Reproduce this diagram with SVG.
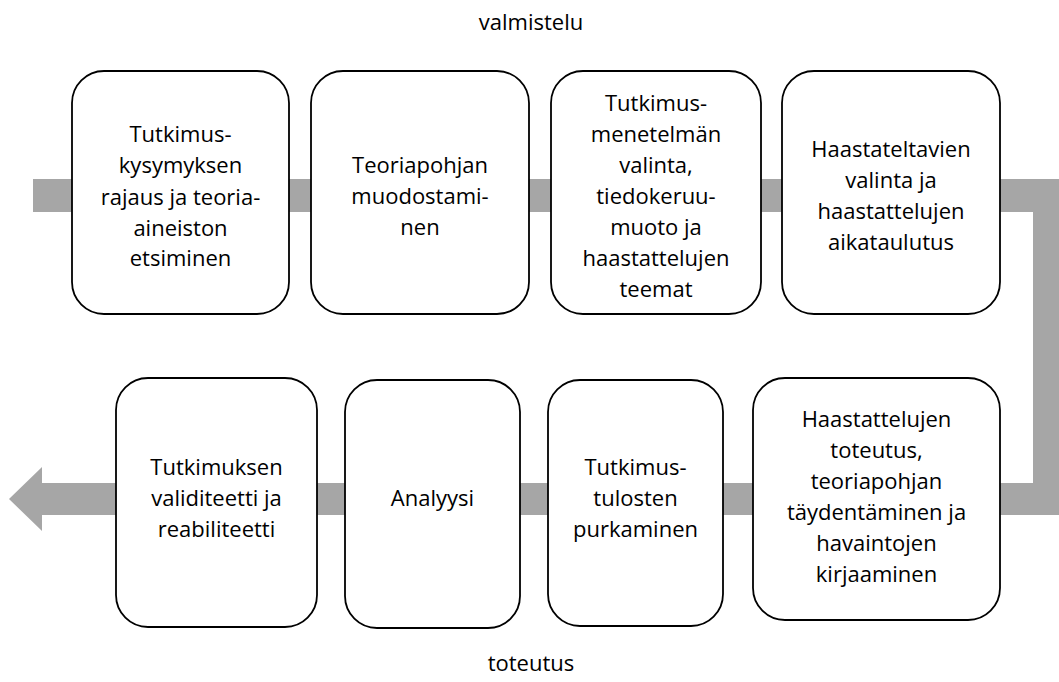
<svg xmlns="http://www.w3.org/2000/svg" width="1059" height="682" viewBox="0 0 1059 682">
<style>
.box{fill:#fff;stroke:#000;stroke-width:1.8}
.t{font-family:"Open Sans","Liberation Sans",sans-serif;font-size:22px;fill:#000;text-anchor:middle}
.band{fill:#a6a6a6}
</style>
<rect width="1059" height="682" fill="#fff"/>
<text class="t" x="531" y="30">valmistelu</text>
<text class="t" x="531" y="671">toteutus</text>
<g id="connectors">
<polygon class="band" points="33,179 1066,179 1066,515 42,515 42,531 9,499 42,467 42,483 1033,483 1033,212 33,212"/>
</g>
<g id="n1">
<rect class="box" x="72" y="71" width="217" height="243" rx="32"/>
<text class="t" x="180.5" y="142">Tutkimus-</text>
<text class="t" x="180.5" y="173">kysymyksen</text>
<text class="t" x="180.5" y="205">rajaus ja teoria-</text>
<text class="t" x="180.5" y="236">aineiston</text>
<text class="t" x="180.5" y="266">etsiminen</text>
</g>
<g id="n2">
<rect class="box" x="311" y="71" width="218" height="243" rx="32"/>
<text class="t" x="420" y="173">Teoriapohjan</text>
<text class="t" x="420" y="204">muodostami-</text>
<text class="t" x="420" y="235">nen</text>
</g>
<g id="n3">
<rect class="box" x="551" y="71" width="210" height="243" rx="32"/>
<text class="t" x="656" y="111">Tutkimus-</text>
<text class="t" x="656" y="142">menetelmän</text>
<text class="t" x="656" y="173">valinta,</text>
<text class="t" x="656" y="204">tiedokeruu-</text>
<text class="t" x="656" y="235">muoto ja</text>
<text class="t" x="656" y="266">haastattelujen</text>
<text class="t" x="656" y="297">teemat</text>
</g>
<g id="n4">
<rect class="box" x="782" y="71" width="218" height="243" rx="32"/>
<text class="t" x="891" y="157">Haastateltavien</text>
<text class="t" x="891" y="188">valinta ja</text>
<text class="t" x="891" y="219">haastattelujen</text>
<text class="t" x="891" y="250">aikataulutus</text>
</g>
<g id="n5">
<rect class="box" x="116" y="378" width="201" height="249" rx="32"/>
<text class="t" x="216.5" y="475">Tutkimuksen</text>
<text class="t" x="216.5" y="506">validiteetti ja</text>
<text class="t" x="216.5" y="537">reabiliteetti</text>
</g>
<g id="n6">
<rect class="box" x="345" y="380" width="175" height="248" rx="32"/>
<text class="t" x="432.5" y="506">Analyysi</text>
</g>
<g id="n7">
<rect class="box" x="548" y="380" width="175" height="246" rx="32"/>
<text class="t" x="635.5" y="475">Tutkimus-</text>
<text class="t" x="635.5" y="506">tulosten</text>
<text class="t" x="635.5" y="537">purkaminen</text>
</g>
<g id="n8">
<rect class="box" x="753" y="378" width="247" height="242" rx="32"/>
<text class="t" x="876.5" y="427">Haastattelujen</text>
<text class="t" x="876.5" y="458">toteutus,</text>
<text class="t" x="876.5" y="489">teoriapohjan</text>
<text class="t" x="876.5" y="520">täydentäminen ja</text>
<text class="t" x="876.5" y="551">havaintojen</text>
<text class="t" x="876.5" y="582">kirjaaminen</text>
</g>
</svg>
